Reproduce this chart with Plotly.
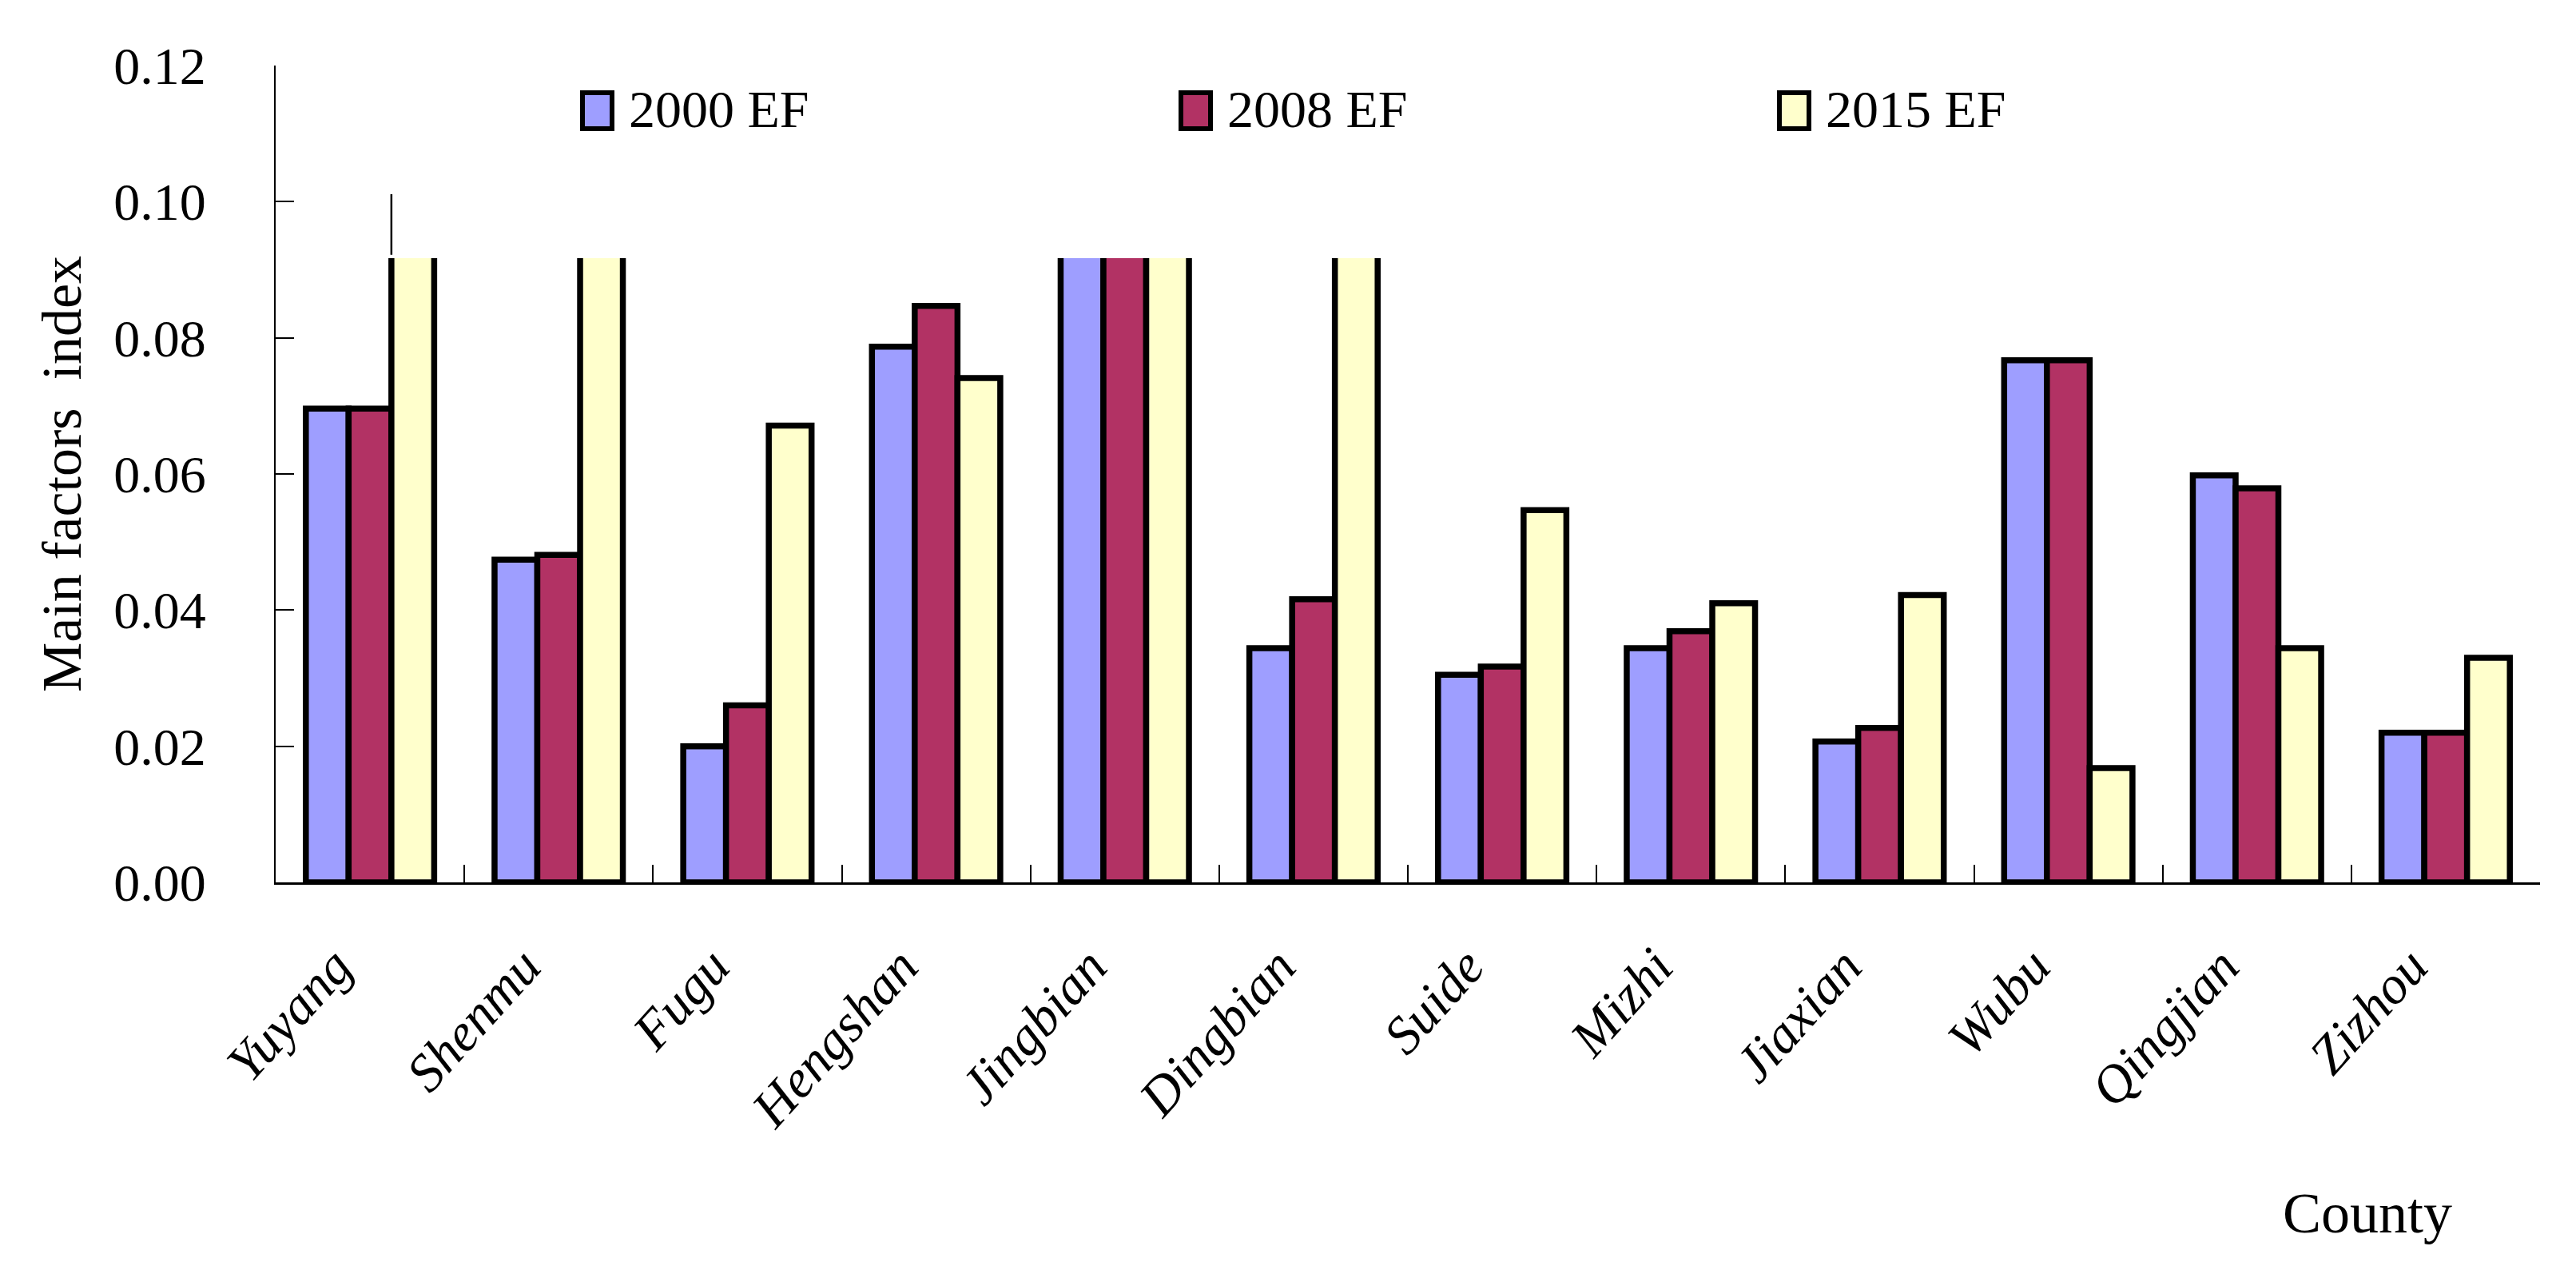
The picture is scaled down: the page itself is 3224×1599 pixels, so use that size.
import plotly.graph_objects as go

# ---------------- data ----------------
counties = ["Yuyang", "Shenmu", "Fugu", "Hengshan", "Jingbian", "Dingbian",
            "Suide", "Mizhi", "Jiaxian", "Wubu", "Qingjian", "Zizhou"]

# bars that run off the top in the source are cut at this level
CLIP = 0.0922

ef2000 = [0.0696, 0.0474, 0.0200, 0.0787, CLIP, 0.0344,
          0.0305, 0.0344, 0.0207, 0.0767, 0.0598, 0.0220]
ef2008 = [0.0696, 0.0481, 0.0260, 0.0847, CLIP, 0.0416,
          0.0317, 0.0369, 0.0227, 0.0767, 0.0579, 0.0220]
ef2015 = [CLIP, CLIP, 0.0671, 0.0741, CLIP, CLIP,
          0.0547, 0.0410, 0.0422, 0.0168, 0.0344, 0.0330]

series_names = ["2000 EF", "2008 EF", "2015 EF"]
series_values = [ef2000, ef2008, ef2015]
series_colors = ["#9E9EFF", "#B23264", "#FFFFCC"]

y_ticks = [0.00, 0.02, 0.04, 0.06, 0.08, 0.10, 0.12]
y_tick_labels = ["0.00", "0.02", "0.04", "0.06", "0.08", "0.10", "0.12"]

# stray vertical line above the Yuyang 2015 bar in the source
stray_top = 0.1011

# ---------------- layout geometry ----------------
OFF = 8  # default page margin of the html body
W, H = 3224 - OFF, 1599 - OFF
L, R, T, B = 345 - OFF, 45, 82 - OFF, 495
PW, PH = W - L - R, H - T - B
BARGAP = 0.32
FONT = "Liberation Serif, Times New Roman, serif"


def px_x(p):  # screen pixel -> paper x
    return (p - OFF - L) / PW


def px_y(p):  # screen pixel -> paper y
    return (T + PH - (p - OFF)) / PH


fig = go.Figure()
for name, vals, col in zip(series_names, series_values, series_colors):
    fig.add_trace(go.Bar(
        x=counties, y=vals, name=name,
        marker=dict(color=col, line=dict(color="black", width=7.5)),
        showlegend=False,
    ))

shapes = []
# hide the top edge of the clipped bars
shapes.append(dict(type="rect", xref="x", yref="y", x0=-0.38, x1=11.45,
                   y0=CLIP - 0.0005, y1=CLIP + 0.0006,
                   fillcolor="white", line=dict(width=0), layer="above"))
# stray line at left edge of Yuyang 2015 bar
x_line = (1 - BARGAP) / 6
shapes.append(dict(type="line", xref="x", yref="y", x0=x_line, x1=x_line,
                   y0=CLIP, y1=stray_top, line=dict(color="black", width=2.5),
                   layer="above"))

annotations = []
# custom legend (large swatches like the source)
leg_lefts = [729, 1478, 2227]
for name, col, lx in zip(series_names, series_colors, leg_lefts):
    shapes.append(dict(type="rect", xref="paper", yref="paper",
                       x0=px_x(lx), x1=px_x(lx + 37), y0=px_y(161), y1=px_y(116),
                       fillcolor=col, line=dict(color="black", width=6), layer="above"))
    annotations.append(dict(xref="paper", yref="paper", x=px_x(lx + 56), y=px_y(136),
                            xanchor="left", yanchor="middle", showarrow=False,
                            text=name, font=dict(family=FONT, size=66, color="black")))

annotations.append(dict(xref="paper", yref="paper", x=px_x(2963), y=px_y(1518),
                        xanchor="center", yanchor="middle", showarrow=False,
                        text="County", font=dict(family=FONT, size=72, color="black")))

fig.update_layout(
    width=W, height=H, autosize=False,
    margin=dict(l=L, r=R, t=T, b=B, pad=0),
    paper_bgcolor="white", plot_bgcolor="white",
    barmode="group", bargap=BARGAP, bargroupgap=0,
    font=dict(family=FONT, color="black"),
    shapes=shapes, annotations=annotations,
    xaxis=dict(
        type="category", showline=True, linecolor="black", linewidth=2.5,
        ticks="inside", tickson="boundaries", ticklen=22, tickwidth=2, tickcolor="black",
        tickangle=-48, ticklabelstandoff=36, ticklabelshift=-44,
        tickfont=dict(family=FONT, size=67, color="black", style="italic"),
        showgrid=False, zeroline=False,
    ),
    yaxis=dict(
        range=[0, 0.12], tickvals=y_ticks, ticktext=y_tick_labels,
        showline=True, linecolor="black", linewidth=2,
        ticks="inside", ticklen=23, tickwidth=2, tickcolor="black",
        ticklabelstandoff=72,
        tickfont=dict(family=FONT, size=66, color="black"),
        showgrid=False, zeroline=False,
        title=dict(text="Main factors\u00a0\u00a0index", standoff=18,
                   font=dict(family=FONT, size=70, color="black")),
    ),
)

fig.write_html("out.html")
